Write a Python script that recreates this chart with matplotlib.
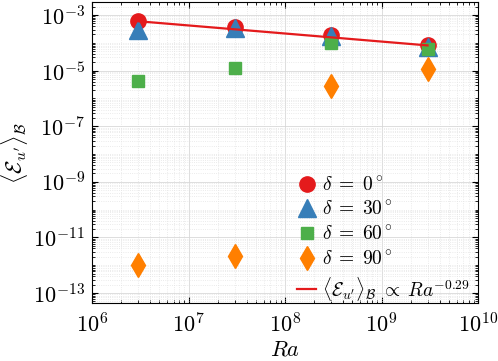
import matplotlib
matplotlib.use('Agg')
import matplotlib.pyplot as plt
import matplotlib.ticker as mticker
import numpy as np

plt.rcParams['mathtext.fontset'] = 'cm'
plt.rcParams['font.family'] = 'serif'
plt.rcParams['font.serif'] = ['cmr10', 'DejaVu Serif']
plt.rcParams['axes.formatter.use_mathtext'] = True

# data
ra = [3e6, 3e7, 3e8, 3e9]
e_d0 = [6.0e-4, 3.7e-4, 1.9e-4, 8.3e-5]
e_d30 = [2.9e-4, 3.3e-4, 1.75e-4, 7.0e-5]
e_d60 = [4.3e-6, 1.2e-5, 9.5e-5, 6.0e-5]
e_d90 = [1.0e-12, 2.1e-12, 2.8e-6, 1.15e-5]

# power law fit
fit_coef = 6.0e-4 * (3e6) ** 0.29
fit_exp = -0.29

fig = plt.figure(figsize=(4.98, 3.61), dpi=100)
ax = fig.add_axes([92 / 498, 1 - 303 / 361, 386 / 498, 301 / 361])

ax.plot(ra, e_d0, 'o', color='#e41a1c', markersize=11, label=r'$\delta\;=\;0^\circ$', zorder=3)
ax.plot(ra, e_d30, '^', color='#377eb8', markersize=13, label=r'$\delta\;=\;30^\circ$', zorder=4)
ax.plot(ra, e_d60, 's', color='#4daf4a', markersize=8, label=r'$\delta\;=\;60^\circ$', zorder=5)
ax.plot(ra, e_d90, 'd', color='#ff7f00', markersize=12, label=r'$\delta\;=\;90^\circ$', zorder=5)
ra_fit = np.array(ra)
ax.plot(ra_fit, fit_coef * ra_fit ** fit_exp, '-', color='#e41a1c', linewidth=1.6,
        label=r'$\langle \mathcal{E}_{u^\prime} \rangle_\mathcal{B}\;\propto\;Ra^{-0.29}$', zorder=6)

ax.set_xscale('log')
ax.set_yscale('log')
ax.set_xlim(1e6, 1e10)
ax.set_ylim(10 ** -13.36, 10 ** -2.53)

ax.xaxis.set_major_locator(mticker.LogLocator(base=10, numticks=20))
ax.xaxis.set_minor_locator(mticker.LogLocator(base=10, subs=np.arange(2, 10), numticks=20))
ax.yaxis.set_major_locator(mticker.FixedLocator([10.0 ** k for k in range(-13, -2, 2)]))
ax.yaxis.set_minor_locator(mticker.LogLocator(base=10, subs=np.arange(1, 10), numticks=30))
ax.yaxis.set_minor_formatter(mticker.NullFormatter())

ax.tick_params(which='both', direction='in', top=True, right=True, labelsize=16)
ax.tick_params(axis='x', which='major', pad=7)
ax.tick_params(axis='y', which='major', pad=5)
ax.tick_params(which='major', length=4)
ax.tick_params(which='minor', length=2)

ax.grid(which='major', color='#d8d8d8', linestyle='-', linewidth=0.6)
ax.grid(which='minor', color='#e4e4e4', linestyle=':', linewidth=0.6)
ax.set_axisbelow(True)

ax.set_xlabel(r'$Ra$', fontsize=16, labelpad=2)
ax.set_ylabel(r'$\langle \mathcal{E}_{u^\prime} \rangle_\mathcal{B}$', fontsize=16, labelpad=2)

ax.legend(loc='lower right', bbox_to_anchor=(1.0, -0.025), frameon=False, fontsize=14,
          handlelength=1.0, handletextpad=0.3, labelspacing=0.32, borderaxespad=0.0)

fig.savefig('out.png', dpi=100)
